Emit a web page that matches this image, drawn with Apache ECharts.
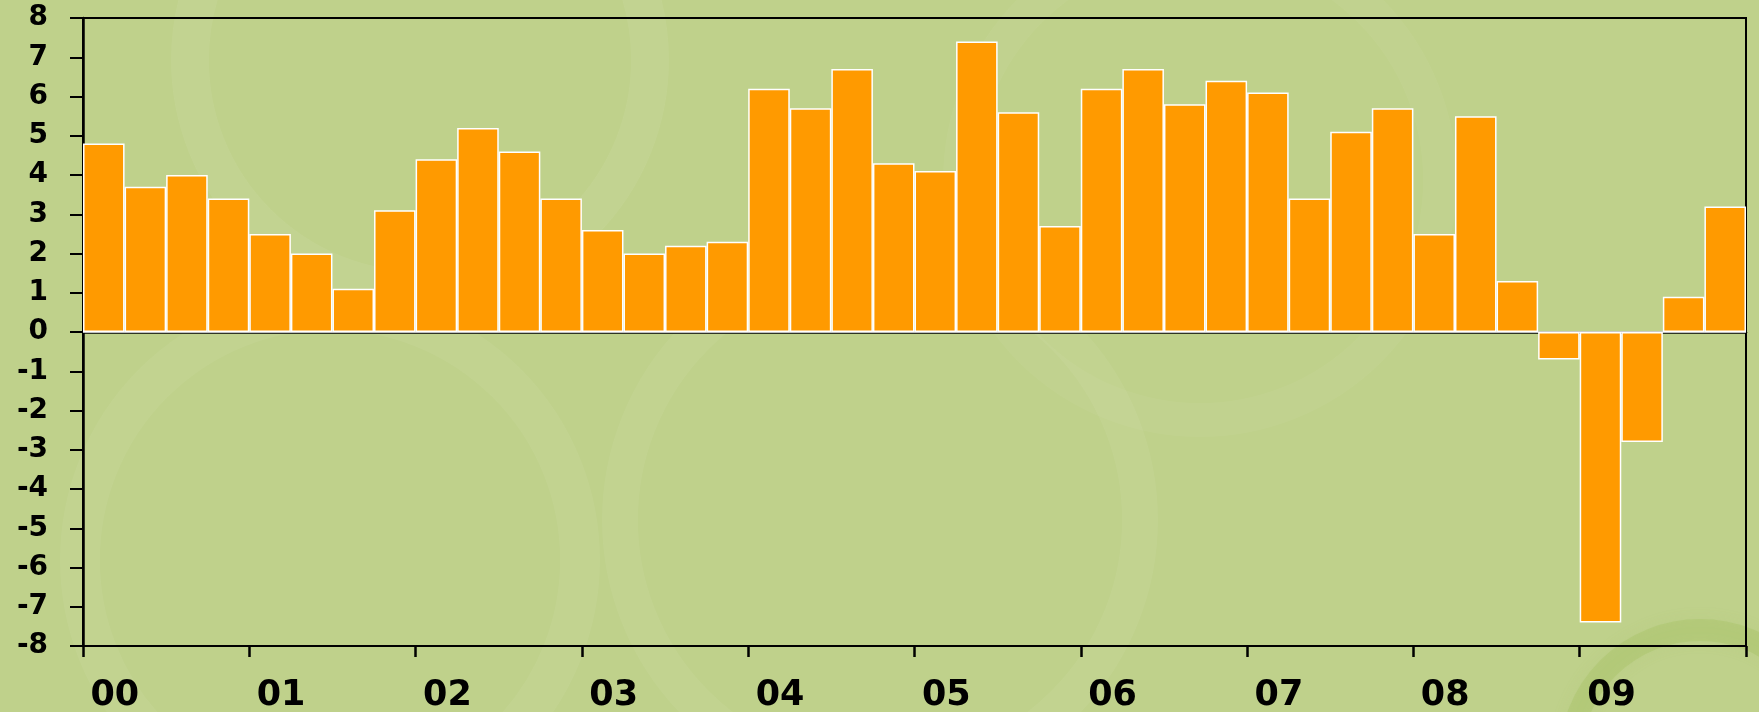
<!DOCTYPE html>
<html>
<head>
<meta charset="utf-8">
<script src="https://cdn.jsdelivr.net/npm/echarts@6/dist/echarts.min.js"></script>
<style>
html,body{margin:0;padding:0;background:#bfd18b;}
#chart{width:1759px;height:712px;}
</style>
</head>
<body>
<div id="chart"></div>
<script>
const years = ['00','01','02','03','04','05','06','07','08','09'];
const quarters = ['Q1','Q2','Q3','Q4'];
const values = [
  4.8, 3.7, 4.0, 3.4,
  2.5, 2.0, 1.1, 3.1,
  4.4, 5.2, 4.6, 3.4,
  2.6, 2.0, 2.2, 2.3,
  6.2, 5.7, 6.7, 4.3,
  4.1, 7.4, 5.6, 2.7,
  6.2, 6.7, 5.8, 6.4,
  6.1, 3.4, 5.1, 5.7,
  2.5, 5.5, 1.3, -0.7,
  -7.4, -2.8, 0.9, 3.2
];
const yTicks = [-8,-7,-6,-5,-4,-3,-2,-1,0,1,2,3,4,5,6,7,8];

const categories = [];
years.forEach(y => quarters.forEach(q => categories.push(y + ' ' + q)));

const chart = echarts.init(document.getElementById('chart'), null, {renderer:'canvas'});
const font = '"DejaVu Sans", "Liberation Sans", Arial, sans-serif';

chart.setOption({
  backgroundColor: '#bfd18b',
  animation: false,
  graphic: [
    {type:'circle', shape:{cx:420, cy:60, r:230}, style:{fill:'none', stroke:'rgba(255,255,255,0.06)', lineWidth:38, shadowBlur:20, shadowColor:'rgba(255,255,255,0.1)'}, z:-10, silent:true},
    {type:'circle', shape:{cx:330, cy:560, r:250}, style:{fill:'none', stroke:'rgba(255,255,255,0.05)', lineWidth:40, shadowBlur:20, shadowColor:'rgba(255,255,255,0.1)'}, z:-10, silent:true},
    {type:'circle', shape:{cx:880, cy:520, r:260}, style:{fill:'none', stroke:'rgba(255,255,255,0.05)', lineWidth:36, shadowBlur:20, shadowColor:'rgba(255,255,255,0.1)'}, z:-10, silent:true},
    {type:'circle', shape:{cx:1200, cy:180, r:240}, style:{fill:'none', stroke:'rgba(255,255,255,0.04)', lineWidth:34, shadowBlur:20, shadowColor:'rgba(255,255,255,0.1)'}, z:-10, silent:true},
    {type:'circle', shape:{cx:1700, cy:760, r:130}, style:{fill:'none', stroke:'rgba(160,190,90,0.3)', lineWidth:22, shadowBlur:15, shadowColor:'rgba(160,190,90,0.3)'}, z:-10, silent:true}
  ],
  grid: {
    left: 83, top: 18, right: 13, bottom: 66,
    outerBoundsMode: 'none',
    containLabel: false,
    show: true, borderColor: '#000', borderWidth: 2, backgroundColor: 'transparent'
  },
  xAxis: [
    {
      type: 'category',
      data: categories,
      boundaryGap: true,
      axisLine: {show:true, lineStyle:{color:'#000', width:2.5}},
      axisTick: {show:false},
      axisLabel: {
        interval: 3,
        hideOverlap: false,
        formatter: (v) => v.endsWith('Q1') ? v.split(' ')[0] : '',
        color: '#000', fontFamily: font, fontWeight: 'bold', fontSize: 35,
        margin: 32, padding: [0,0,0,22]
      },
      splitLine: {show:false}
    },
    {
      type: 'value',
      min: 0, max: 40, interval: 4,
      position: 'bottom',
      axisLine: {show:false},
      axisTick: {show:true, inside:false, length:11, lineStyle:{color:'#000', width:2.5}},
      axisLabel: {show:false},
      splitLine: {show:false}
    }
  ],
  yAxis: {
    type: 'value',
    min: -8, max: 8, interval: 1,
    axisLine: {show:true, onZero:false, lineStyle:{color:'#000', width:2.5}},
    axisTick: {show:true, length:13, lineStyle:{color:'#000', width:2}},
    axisLabel: {
      color:'#000', fontFamily: font, fontWeight:'bold', fontSize: 28, margin: 35,
      formatter: (v) => yTicks.includes(v) ? String(v) : ''
    },
    splitLine: {show:false}
  },
  series: [{
    type: 'bar',
    xAxisIndex: 0,
    data: values,
    barCategoryGap: '0%',
    itemStyle: {color:'#ff9a00', borderColor:'#ffffff', borderWidth:1.5},
    markLine: {
      silent: true,
      symbol: ['none','none'],
      label: {show:false},
      lineStyle: {color:'#ffffff', width:1.5, type:'solid'},
      data: [{yAxis: 0}]
    }
  }]
});
</script>
</body>
</html>
